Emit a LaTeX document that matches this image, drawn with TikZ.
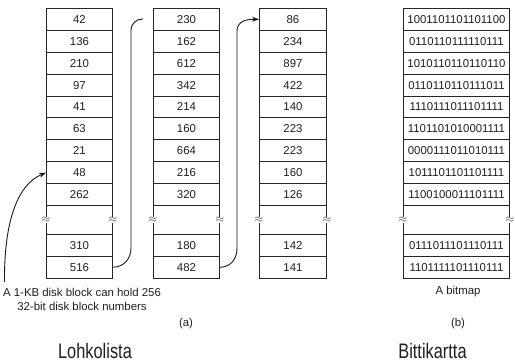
\documentclass[tikz,border=0pt]{standalone}
\usepackage{fontspec}
\setmainfont{Liberation Sans}
\newfontfamily\narrowfont[FakeStretch=0.78]{Liberation Sans}
\usetikzlibrary{arrows.meta,calc}
\begin{document}
\begin{tikzpicture}[x=1pt,y=-1pt,
  cell/.style={draw=black!85, line width=0.9pt, minimum height=21.9pt, inner sep=0pt,
    font=\fontsize{11.4}{13}\selectfont, text=black!88, anchor=north west},
  brk/.style={fill=white, inner sep=0.2pt, font=\fontsize{11}{12}\selectfont, text=black!80},
  conn/.style={line width=0.9pt, draw=black!90},
  tip/.style={-{Stealth[length=7pt,width=5pt]}},
  lbl/.style={inner sep=0pt, font=\fontsize{11.4}{14}\selectfont, text=black!88},
  big/.style={inner sep=0pt, font=\narrowfont\fontsize{21}{24}\selectfont, text=black!88}]
\useasboundingbox (0,0) rectangle (515,361);

% column a
\foreach \v [count=\i] in {42,136,210,97,41,63,21,48,262,310,516}{
  \pgfmathsetmacro\yy{\i<10 ? 8+(\i-1)*21.9 : 234+(\i-10)*21.9}
  \node[cell, minimum width=66pt] (a\i) at (46,\yy) {\v};
}
% column b
\foreach \v [count=\i] in {230,162,612,342,214,160,664,216,320,180,482}{
  \pgfmathsetmacro\yy{\i<10 ? 8+(\i-1)*21.9 : 234+(\i-10)*21.9}
  \node[cell, minimum width=66pt] (b\i) at (153,\yy) {\v};
}
% column c
\foreach \v [count=\i] in {86,234,897,422,140,223,223,160,126,142,141}{
  \pgfmathsetmacro\yy{\i<10 ? 8+(\i-1)*21.9 : 234+(\i-10)*21.9}
  \node[cell, minimum width=67pt] (c\i) at (259,\yy) {\v};
}
% column d (bitmap)
\foreach \v [count=\i] in {1001101101101100,0110110111110111,1010110110110110,0110110110111011,1110111011101111,1101101010001111,0000111011010111,1011101101101111,1100100011101111,0111011101110111,1101111101110111}{
  \pgfmathsetmacro\yy{\i<10 ? 8+(\i-1)*21.9 : 234+(\i-10)*21.9}
  \node[cell, minimum width=106pt] (d\i) at (403,\yy) {\v};
}

% gaps with break marks
\foreach \c in {a,b,c,d}{
  \draw[conn, draw=black!85] (\c9.south west) -- (\c10.north west);
  \draw[conn, draw=black!85] (\c9.south east) -- (\c10.north east);
  \node[brk] at ($(\c9.south west)!0.5!(\c10.north west)$) {$\approx$};
  \node[brk] at ($(\c9.south east)!0.5!(\c10.north east)$) {$\approx$};
}

% connectors
\coordinate (e1) at (143,19);
\draw[conn] (a11.east) .. controls (124,266.8) and (131,259) .. (131,248)
  -- (131,31) .. controls (131,23.5) and (136,19) .. (e1);
\draw[conn, tip] (b11.east) .. controls (231,266.8) and (237,259) .. (237,248)
  -- (237,31) .. controls (237,23.5) and (243,19) .. (c1.west);

% labels
\node[lbl, align=center] (note) at (82,299) {A 1-KB disk block can hold 256\\32-bit disk block numbers};
\coordinate (s) at (4.5,282);
\draw[conn, tip] (s) .. controls (4,225) and (16,185) .. (a8.west);

\node[lbl] (la) at (186,324) {(a)};
\node[lbl] (bm) at (458,292) {A bitmap};
\node[lbl] (lb) at (458,324) {(b)};
\node[big] (t1) at (95,350.5) {Lohkolista};
\node[big] (t2) at (432.5,350.5) {Bittikartta};
\end{tikzpicture}
\end{document}
